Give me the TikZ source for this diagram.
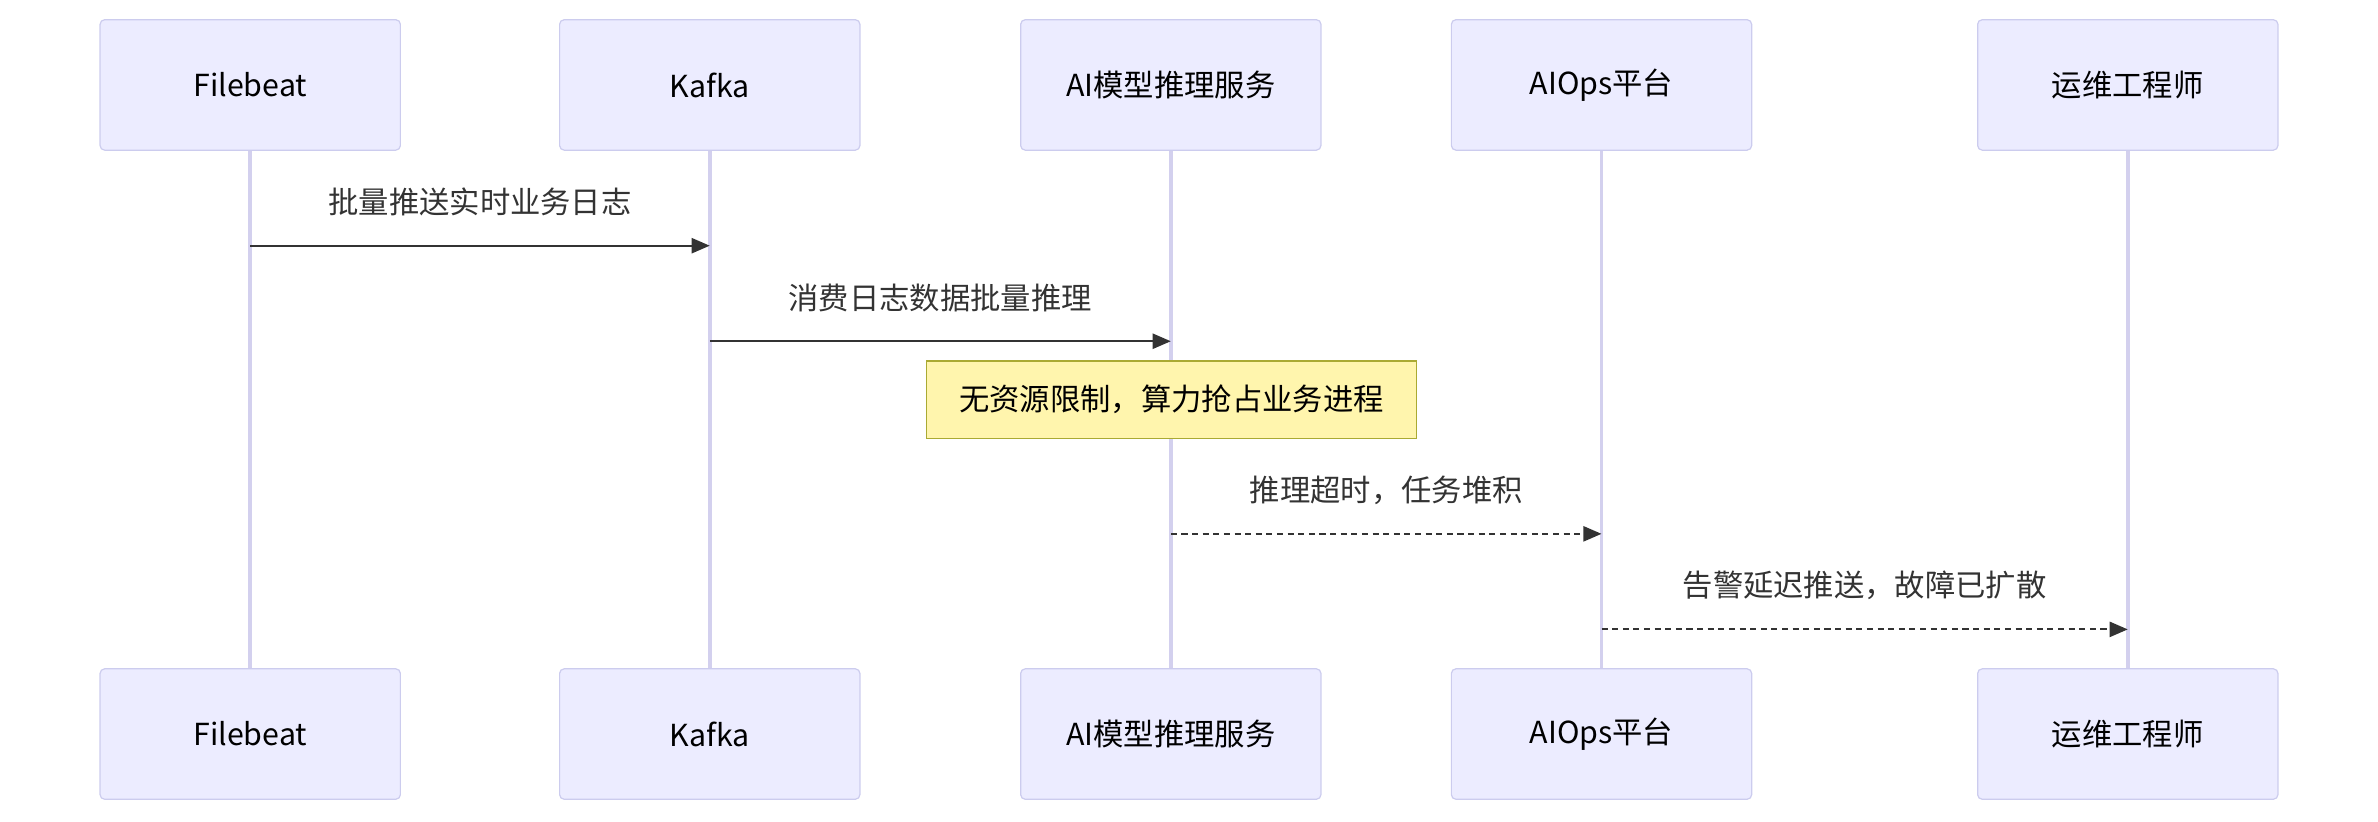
\documentclass[tikz,border=0pt]{standalone}
\usepackage{fontspec}
\setmainfont{Noto Sans CJK SC}
\usetikzlibrary{arrows.meta}
\definecolor{actfill}{HTML}{ECECFF}
\definecolor{actline}{HTML}{CCCCEE}
\definecolor{lifeline}{HTML}{D3D0EE}
\definecolor{notefill}{HTML}{FFF5AD}
\definecolor{noteline}{HTML}{AAAA33}
\definecolor{msg}{HTML}{333333}

\begin{document}
\begin{tikzpicture}[x=0.5pt, y=-0.5pt,
  actor/.style={draw=actline, fill=actfill, rounded corners=1.5pt, minimum width=99pt, minimum height=43pt, font=\fontsize{10}{12}\selectfont, text=black},
  life/.style={draw=lifeline, line width=1.2pt},
  call/.style={draw=msg, line width=0.7pt, -{Triangle[length=6pt,width=5pt]}},
  reply/.style={call, dash pattern=on 2pt off 1.5pt},
  lbl/.style={font=\fontsize{10}{12}\selectfont, text=msg}]
  \useasboundingbox (0,0) rectangle (1568,542);

  % actors, top and bottom
  \foreach \name/\x/\txt in {fb/165/Filebeat, kf/468/Kafka, ai/772/AI模型推理服务, ops/1056/AIOps平台, eng/1403/运维工程师} {
    \node[actor] (\name T) at (\x,56) {\txt};
    \node[actor] (\name B) at (\x,484) {\txt};
    \draw[life] (\name T) -- (\name B);
  }

  % messages
  \coordinate (m1s) at (165,162); \coordinate (m1e) at (468,162);
  \coordinate (m2s) at (468,225); \coordinate (m2e) at (772,225);
  \coordinate (m3s) at (772,352); \coordinate (m3e) at (1056,352);
  \coordinate (m4s) at (1056,415); \coordinate (m4e) at (1403,415);

  \draw[call] (m1s) -- node[lbl, above=6pt] {批量推送实时业务日志} (m1e);
  \draw[call] (m2s) -- node[lbl, above=6pt] {消费日志数据批量推理} (m2e);
  \node[draw=noteline, fill=notefill, line width=0.5pt, minimum width=161.5pt, minimum height=25.5pt, font=\fontsize{10}{12}\selectfont] (note) at (772.5,263.5) {无资源限制，算力抢占业务进程};
  \draw[reply] (m3s) -- node[lbl, above=6pt] {推理超时，任务堆积} (m3e);
  \draw[reply] (m4s) -- node[lbl, above=6pt] {告警延迟推送，故障已扩散} (m4e);
\end{tikzpicture}
\end{document}
